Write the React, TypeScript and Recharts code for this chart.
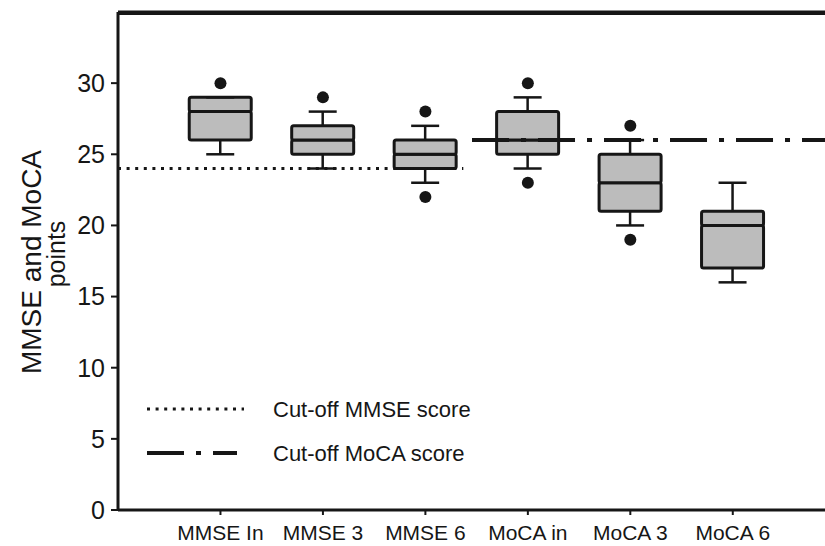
import React from 'react'
import {
  ComposedChart,
  Bar,
  Line,
  XAxis,
  YAxis,
  ReferenceLine,
  Legend,
} from 'recharts'

const categories = ['MMSE In', 'MMSE 3', 'MMSE 6', 'MoCA in', 'MoCA 3', 'MoCA 6']
const whiskerLow = [25, 24, 23, 24, 20, 16]
const quartile1 = [26, 25, 24, 25, 21, 17]
const medians = [28, 26, 25, 26, 23, 20]
const quartile3 = [29, 27, 26, 28, 25, 21]
const whiskerHigh = [29, 28, 27, 29, 26, 23]
const outliersHigh = [30, 29, 28, 30, 27, null]
const outliersLow = [null, null, 22, 23, 19, null]
const yTicks = [0, 5, 10, 15, 20, 25, 30]
const yMax = 35

const cutoffNames = ['Cut-off MMSE score', 'Cut-off MoCA score']
const cutoffValues = [24, 26]
// extent of each cut-off line, counted in category slots (1 = first box)
const cutoffSpans = [[0, 3.37], [3.455, 6.9]]

const data = categories.map((name, i) => ({
  name,
  slot: i + 1,
  base: whiskerLow[i],
  lowWhisker: quartile1[i] - whiskerLow[i],
  lowBox: medians[i] - quartile1[i],
  highBox: quartile3[i] - medians[i],
  highWhisker: whiskerHigh[i] - quartile3[i],
  outHigh: outliersHigh[i],
  outLow: outliersLow[i],
}))

const W = 825
const H = 546
const AXIS_W = 118
const TOP = 12
const SLOTS = 6.9
const unit = (W - AXIS_W) / SLOTS
const INK = '#161616'
const FONT = '"Liberation Sans", Arial, Helvetica, sans-serif'
const dotted = '3 5.6'
const dashDot = '37 12 5 12'
const lineStyles = [
  { dash: dotted, width: 3 },
  { dash: dashDot, width: 4 },
]

const whisker = (capAtTop: boolean) => (props: any) => {
  const { x, y, width, height } = props
  if (x == null || y == null) return null
  const cx = x + width / 2
  const capY = capAtTop ? y : y + height
  return (
    <g>
      <line x1={cx} x2={cx} y1={y} y2={y + height} stroke={INK} strokeWidth={2.5} />
      <line x1={cx - 14} x2={cx + 14} y1={capY} y2={capY} stroke={INK} strokeWidth={2.5} />
    </g>
  )
}

const boxHalf = (props: any) => {
  const { x, y, width, height } = props
  if (x == null || y == null) return null
  return (
    <rect x={x} y={y} width={width} height={height} rx={2}
      fill="#bcbcbc" stroke={INK} strokeWidth={3} />
  )
}

const YAxisTitle = ({ viewBox }: any) => {
  const cy = viewBox.y + viewBox.height / 2
  return (
    <g fill={INK} fontFamily={FONT}>
      <text transform={`translate(${viewBox.x + 41}, ${cy + 1}) rotate(-90)`} textAnchor="middle" fontSize={28}>
        MMSE and MoCA
      </text>
      <text transform={`translate(${viewBox.x + 65}, ${cy - 7}) rotate(-90)`} textAnchor="middle" fontSize={25}>
        points
      </text>
    </g>
  )
}

const renderLegend = () => (
  <svg width={380} height={72} style={{ display: 'block' }}>
    {cutoffNames.map((name, i) => (
      <g key={name}>
        <line x1={7} x2={i === 0 ? 104 : 97} y1={14 + i * 44} y2={14 + i * 44}
          stroke={INK} strokeWidth={lineStyles[i].width} strokeDasharray={lineStyles[i].dash} />
        <text x={133} y={14 + i * 44} dominantBaseline="central" fontSize={22}
          fill={INK} fontFamily={FONT}>
          {name}
        </text>
      </g>
    ))}
  </svg>
)

export default function App() {
  return (
    <div style={{ position: 'absolute', left: 0, top: 0, width: W, height: H, overflow: 'hidden', background: '#fff' }}>
      <ComposedChart width={W} height={H} data={data} barSize={62}
        margin={{ top: 0, right: 0, bottom: 0, left: 0 }}
        style={{ fontFamily: FONT }}>
        <XAxis dataKey="name" interval={0}
          padding={{ left: unit * 0.5, right: unit * (SLOTS - 6.5) }}
          height={36} tickSize={5} tickMargin={10}
          axisLine={{ stroke: INK, strokeWidth: 3 }}
          tickLine={{ stroke: INK, strokeWidth: 2 }}
          tick={{ fill: INK, fontSize: 21 }} fontSize={21} />
        <XAxis xAxisId="frame" dataKey="name" orientation="top" height={TOP}
          tick={false} tickLine={false}
          axisLine={{ stroke: INK, strokeWidth: 3 }} />
        <XAxis xAxisId="pos" dataKey="slot" type="number" domain={[0, SLOTS]}
          allowDataOverflow hide />
        <YAxis width={AXIS_W} domain={[0, yMax]} ticks={yTicks} interval={0}
          allowDataOverflow
          tickSize={7} tickMargin={6}
          axisLine={{ stroke: INK, strokeWidth: 3 }}
          tickLine={{ stroke: INK, strokeWidth: 2 }}
          tick={{ fill: INK, fontSize: 25 }} fontSize={25}
          label={<YAxisTitle />} />

        <Bar dataKey="base" stackId="box" fill="none" isAnimationActive={false} />
        <Bar dataKey="lowWhisker" stackId="box" shape={whisker(false)} isAnimationActive={false} />
        <Bar dataKey="lowBox" stackId="box" shape={boxHalf} isAnimationActive={false} />
        <Bar dataKey="highBox" stackId="box" shape={boxHalf} isAnimationActive={false} />
        <Bar dataKey="highWhisker" stackId="box" shape={whisker(true)} isAnimationActive={false} />

        <Line dataKey="outHigh" stroke="none" dot={{ r: 6, fill: INK, stroke: 'none' }}
          activeDot={false} isAnimationActive={false} legendType="none" />
        <Line dataKey="outLow" stroke="none" dot={{ r: 6, fill: INK, stroke: 'none' }}
          activeDot={false} isAnimationActive={false} legendType="none" />

        {cutoffValues.map((v, i) => (
          <ReferenceLine key={cutoffNames[i]} xAxisId="pos" ifOverflow="visible"
            segment={[{ x: cutoffSpans[i][0], y: v }, { x: cutoffSpans[i][1], y: v }]}
            stroke={INK} strokeWidth={lineStyles[i].width}
            strokeDasharray={lineStyles[i].dash} />
        ))}
        <ReferenceLine xAxisId="pos" ifOverflow="visible"
          segment={[{ x: 0, y: yMax - 0.1 }, { x: SLOTS, y: yMax - 0.1 }]}
          stroke={INK} strokeWidth={3} />

        <Legend layout="horizontal" align="center" verticalAlign="middle"
          content={renderLegend}
          wrapperStyle={{ left: 140, top: 395, width: 380, height: 72 }} />
      </ComposedChart>
    </div>
  )
}
